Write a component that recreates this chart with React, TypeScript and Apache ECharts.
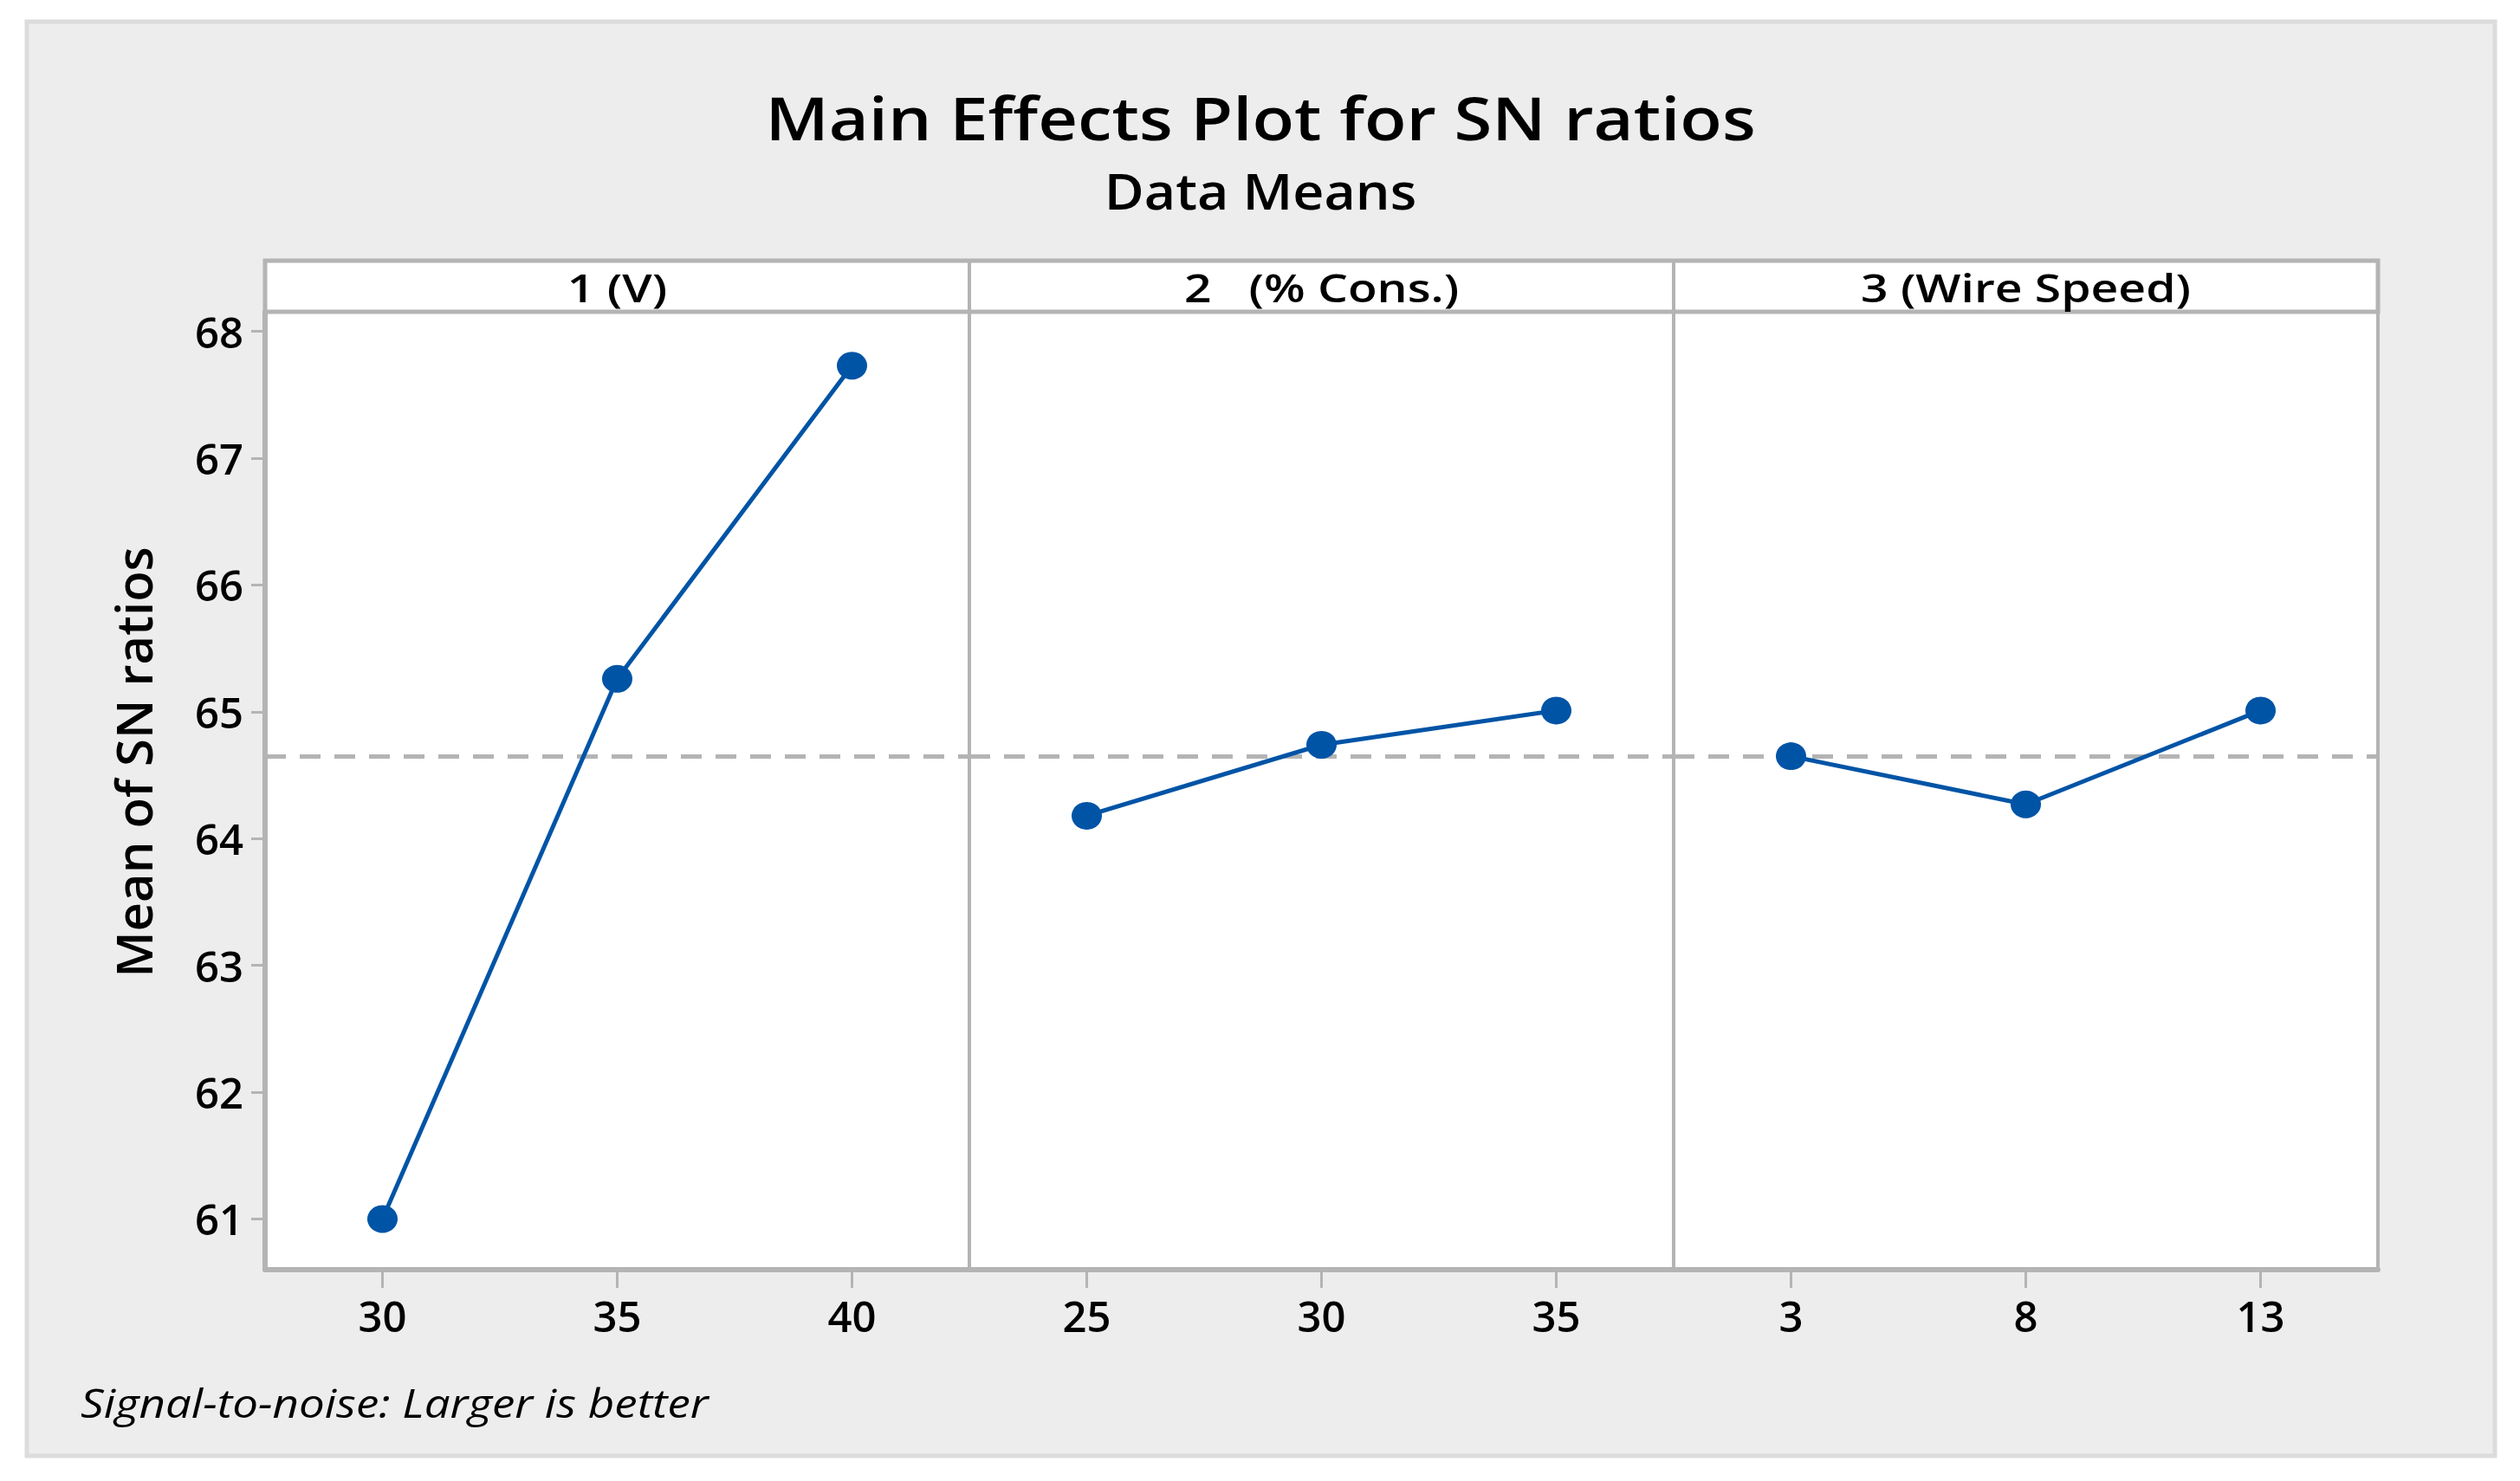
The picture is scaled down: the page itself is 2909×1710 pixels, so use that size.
import React, { useEffect, useRef } from "react";
import * as echarts from "echarts";

// ---- data ----
const panelTitles = ["1 (V)", "2   (% Cons.)", "3 (Wire Speed)"];
const factor1Levels = [30, 35, 40];
const factor1Means = [61.0, 65.26, 67.73];
const factor2Levels = [25, 30, 35];
const factor2Means = [64.18, 64.74, 65.01];
const factor3Levels = [3, 8, 13];
const factor3Means = [64.65, 64.27, 65.01];
const overallMean = 64.65;
const yTickValues = [61, 62, 63, 64, 65, 66, 67, 68];
const xRanges = [
  [27.5, 42.5],
  [22.5, 37.5],
  [0.5, 15.5],
];
const yRange = [60.6, 68.155];

const levels = [factor1Levels, factor2Levels, factor3Levels];
const means = [factor1Means, factor2Means, factor3Means];

const FONT = "'Open Sans', 'Noto Sans', sans-serif";
const GRAY = "#b4b4b4";
const BLUE = "#0054a6";

// layout
const plotLeft = 306;
const plotRight = 2745;
const stripTop = 301;
const plotTop = 360;
const plotBottom = 1466;
const panelW = (plotRight - plotLeft) / 3;

function txt(text: string, x: number, y: number, fontSize: number, opts: any = {}) {
  const { scaleX = 1, weight = 600, italic = false, align = "center", rotation = 0 } = opts;
  return {
    type: "text",
    x,
    y,
    rotation,
    scaleX,
    z: 12,
    style: {
      text,
      fontSize,
      fontWeight: weight,
      fontStyle: italic ? "italic" : "normal",
      fontFamily: FONT,
      fill: "#000",
      align,
      verticalAlign: "middle",
      textAlign: align,
      textVerticalAlign: "middle",
    },
  };
}

export default function App() {
  const ref = useRef<HTMLDivElement>(null);
  useEffect(() => {
    if (!ref.current) return;
    const chart = echarts.init(ref.current, undefined, { renderer: "svg" });
    const grids = [0, 1, 2].map((i) => ({
      left: plotLeft + i * panelW,
      top: plotTop,
      width: panelW,
      height: plotBottom - plotTop,
      show: true,
      backgroundColor: "#ffffff",
      borderColor: GRAY,
      borderWidth: 4,
      containLabel: false,
    }));
    const xAxes = [0, 1, 2].map((i) => ({
      type: "value",
      gridIndex: i,
      min: xRanges[i][0],
      max: xRanges[i][1],
      splitLine: { show: false },
      axisLine: { show: true, lineStyle: { color: GRAY, width: 6 } },
      axisTick: {
        show: true,
        length: 21,
        customValues: levels[i],
        lineStyle: { color: GRAY, width: 3 },
      },
      axisLabel: {
        show: true,
        customValues: levels[i],
        fontSize: 49,
        fontWeight: 600,
        fontFamily: FONT,
        color: "#000",
        margin: 28,
      },
    }));
    const yAxes = [0, 1, 2].map((i) => ({
      type: "value",
      gridIndex: i,
      min: yRange[0],
      max: yRange[1],
      show: i === 0,
      splitLine: { show: false },
      axisLine: { show: true, lineStyle: { color: GRAY, width: 6 } },
      axisTick: {
        show: true,
        length: 16,
        customValues: yTickValues,
        lineStyle: { color: GRAY, width: 3 },
      },
      axisLabel: {
        show: true,
        customValues: yTickValues,
        fontSize: 49,
        fontWeight: 600,
        fontFamily: FONT,
        color: "#000",
        margin: 25,
      },
    }));
    const series = [0, 1, 2].map((i) => ({
      type: "line",
      xAxisIndex: i,
      yAxisIndex: i,
      data: levels[i].map((x, j) => [x, means[i][j]]),
      symbol: "circle",
      symbolSize: [35, 32],
      itemStyle: { color: BLUE },
      lineStyle: { color: BLUE, width: 5 },
      z: 3,
      markLine: {
        silent: true,
        symbol: ["none", "none"],
        label: { show: false },
        lineStyle: { color: GRAY, width: 5, type: [24, 16] },
        data: [{ yAxis: overallMean }],
        z: 2,
      },
    }));

    const graphics: any[] = [
      {
        type: "rect",
        shape: { x: 31, y: 25, width: 2849, height: 1656 },
        style: { fill: "#ededed", stroke: "#dcdcdc", lineWidth: 5 },
        z: -10,
      },
      {
        type: "rect",
        shape: { x: plotLeft, y: stripTop, width: plotRight - plotLeft, height: plotTop - stripTop },
        style: { fill: "#ffffff", stroke: GRAY, lineWidth: 5 },
        z: 10,
      },
      ...[1, 2].map((i) => ({
        type: "line",
        shape: { x1: plotLeft + i * panelW, y1: stripTop, x2: plotLeft + i * panelW, y2: plotTop },
        style: { stroke: GRAY, lineWidth: 4 },
        z: 11,
      })),
      ...panelTitles.map((t, i) => txt(t, plotLeft + (i + 0.5) * panelW, 331, 46, { scaleX: 1.2 })),
      txt("Main Effects Plot for SN ratios", 1455, 136, 68, { scaleX: 1.17 }),
      txt("Data Means", 1455, 220, 57, { scaleX: 1.1 }),
      txt("Mean of SN ratios", 153, 880, 58, { rotation: Math.PI / 2 }),
      txt("Signal-to-noise: Larger is better", 93, 1619, 46, {
        scaleX: 1.15,
        weight: 400,
        italic: true,
        align: "left",
      }),
    ];

    chart.setOption({
      animation: false,
      backgroundColor: "#ffffff",
      grid: grids,
      xAxis: xAxes,
      yAxis: yAxes,
      series,
      graphic: graphics,
    });
    return () => chart.dispose();
  }, []);
  return (
    <div
      ref={ref}
      style={{ position: "fixed", left: 0, top: 0, width: 2909, height: 1710 }}
    />
  );
}
